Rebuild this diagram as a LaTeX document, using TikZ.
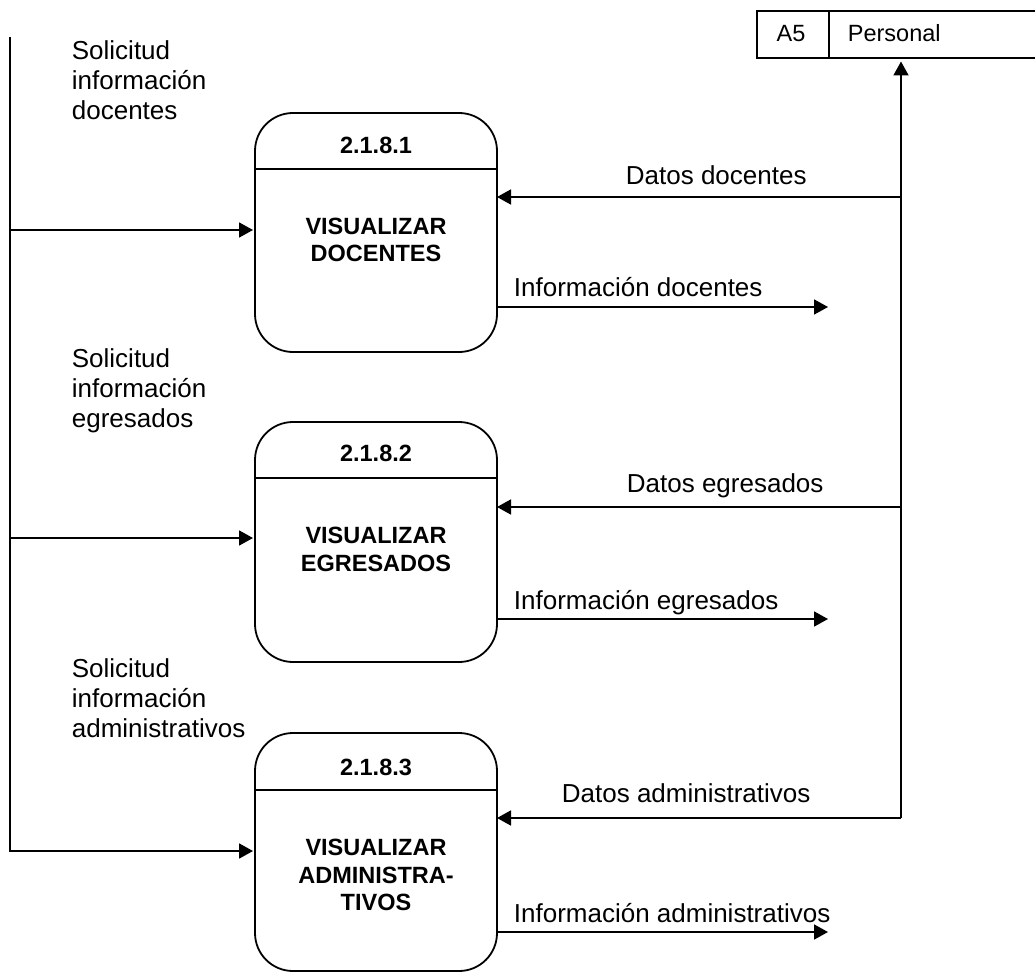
\documentclass[tikz,border=0pt]{standalone}
\usepackage{fontspec}
\setmainfont{Liberation Sans}
\usetikzlibrary{arrows.meta}
\begin{document}
\begin{tikzpicture}[x=1pt,y=-1pt,
  line width=1.8pt,
  arr/.style={-{Triangle[length=14pt,width=15pt]}},
  proc/.style={draw, rounded corners=38pt, minimum width=242pt, inner sep=0pt, outer sep=0pt},
  hdr/.style={font=\fontsize{23.5}{27.5}\selectfont\bfseries, inner sep=0pt},
  body/.style={font=\fontsize{23.5}{27.5}\selectfont\bfseries, align=center, inner sep=0pt},
  lbl/.style={font=\fontsize{26}{30}\selectfont, inner sep=0pt, anchor=base west},
  mlbl/.style={font=\fontsize{26}{30}\selectfont, inner sep=0pt, anchor=north west, align=left},
  st/.style={font=\fontsize{23.5}{27.5}\selectfont, inner sep=0pt}
]
\useasboundingbox[fill=white] (0,0) rectangle (1035,973);

% processes
\node[proc, minimum height=239pt] (p1) at (376,232.5) {};
\draw ([yshift=-56pt]p1.north west) -- ([yshift=-56pt]p1.north east);
\node[hdr] (p1n) at ([yshift=-32pt]p1.north) {2.1.8.1};
\node[body] (p1t) at (376,240) {VISUALIZAR\\DOCENTES};

\node[proc, minimum height=240pt] (p2) at (376,542) {};
\draw ([yshift=-56pt]p2.north west) -- ([yshift=-56pt]p2.north east);
\node[hdr] (p2n) at ([yshift=-31pt]p2.north) {2.1.8.2};
\node[body] (p2t) at (376,549.5) {VISUALIZAR\\EGRESADOS};

\node[proc, minimum height=238pt] (p3) at (376,852) {};
\draw ([yshift=-57pt]p3.north west) -- ([yshift=-57pt]p3.north east);
\node[hdr] (p3n) at ([yshift=-34pt]p3.north) {2.1.8.3};
\node[body] (p3t) at (376,875) {VISUALIZAR\\ADMINISTRA-\\TIVOS};

% data store
\node[minimum width=278pt, minimum height=47pt, inner sep=0pt, outer sep=0pt, anchor=north west] (store) at (757,11) {};
\draw (store.north east) -- (store.north west) -- (store.south west) -- (store.south east);
\coordinate (sd) at (829,11);
\draw (sd) -- (sd |- store.south);
\node[st, anchor=base] (a5) at (791,42) {A5};
\node[st, anchor=base west] (pers) at (847,42) {Personal};

% left trunk
\coordinate (t0) at (10,37);
\coordinate (l1) at (10,230);
\coordinate (l2) at (10,538);
\coordinate (l3) at (10,851);
\draw[arr, shorten >=2pt] (t0) -- (l3) -- (l3 -| p3.west);
\draw[arr, shorten >=2pt] (l1) -- (l1 -| p1.west);
\draw[arr, shorten >=2pt] (l2) -- (l2 -| p2.west);

% right trunk
\coordinate (d1) at (901,197);
\coordinate (d2) at (901,507);
\coordinate (d3) at (901,818);
\draw[arr, shorten >=3.5pt] (d3) -- (d3 |- store.south);
\draw[arr] (d1) -- (d1 -| p1.east);
\draw[arr] (d2) -- (d2 -| p2.east);
\draw[arr] (d3) -- (d3 -| p3.east);

% outputs
\coordinate (i1) at (828,307);
\coordinate (i2) at (828,619);
\coordinate (i3) at (828,932);
\draw[arr] (i1 -| p1.east) -- (i1);
\draw[arr] (i2 -| p2.east) -- (i2);
\draw[arr] (i3 -| p3.east) -- (i3);

% labels
\node[lbl] (ld1) at (625,185) {Datos docentes};
\node[lbl] (ld2) at (626,492) {Datos egresados};
\node[lbl] (ld3) at (561,802) {Datos administrativos};
\node[lbl] (li1) at (513,297) {Información docentes};
\node[lbl] (li2) at (513,609) {Información egresados};
\node[lbl] (li3) at (513,922) {Información administrativos};
\node[mlbl] (s1) at (71,40) {Solicitud\\información\\docentes};
\node[mlbl] (s2) at (71,348) {Solicitud\\información\\egresados};
\node[mlbl] (s3) at (71,658) {Solicitud\\información\\administrativos};
\end{tikzpicture}
\end{document}
